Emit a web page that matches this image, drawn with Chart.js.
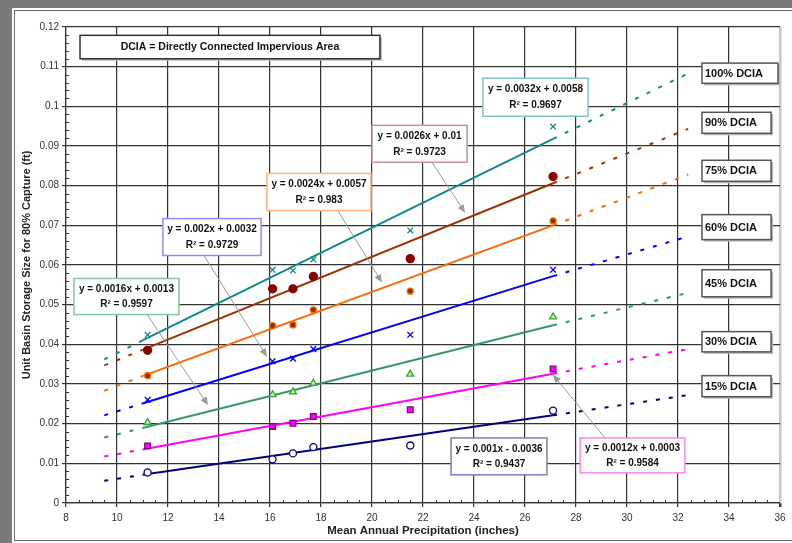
<!DOCTYPE html>
<html>
<head>
<meta charset="utf-8">
<script src="https://cdn.jsdelivr.net/npm/chart.js@4.4.1/dist/chart.umd.min.js"></script>
<style>
  html, body { margin: 0; padding: 0; background: #7a7a7a; }
  canvas { display: block; }
</style>
</head>
<body>
<canvas id="chart" width="792" height="543"></canvas>
<script>
'use strict';

const FONT = '"Liberation Sans", Arial, sans-serif';

// Mean annual precipitation (inches) of the six stations
const precip = [11.2, 16.1, 16.9, 17.7, 21.5, 27.1];

// Unit basin storage size (ft) for 80% capture, per DCIA level
const dcia100 = [0.0424, 0.0588, 0.0586, 0.0614, 0.0687, 0.0949];
const dcia90  = [0.0385, 0.0540, 0.0540, 0.0571, 0.0616, 0.0823];
const dcia75  = [0.0321, 0.0447, 0.0449, 0.0487, 0.0534, 0.0711];
const dcia60  = [0.0260, 0.0357, 0.0364, 0.0388, 0.0424, 0.0588];
const dcia45  = [0.0203, 0.0273, 0.0280, 0.0302, 0.0325, 0.0469];
const dcia30  = [0.0144, 0.0193, 0.0201, 0.0218, 0.0235, 0.0338];
const dcia15  = [0.0077, 0.0110, 0.0125, 0.0141, 0.0145, 0.0233];

// Trend lines: dashed 9.5-11, solid 11-27.1, dashed 27.1-32.4
const trendX   = [9.5, 11.0, 27.1, 32.4];
const trend100 = [0.0362, 0.0410, 0.0918, 0.1083];
const trend90  = [0.0347, 0.0386, 0.0806, 0.0943];
const trend75  = [0.0283, 0.0320, 0.0700, 0.0828];
const trend60  = [0.0221, 0.0251, 0.0572, 0.0672];
const trend45  = [0.0165, 0.0189, 0.0448, 0.0530];
const trend30  = [0.0117, 0.0135, 0.0326, 0.0388];
const trend15  = [0.0056, 0.0071, 0.0221, 0.0272];

const seriesNames = ['100% DCIA', '90% DCIA', '75% DCIA', '60% DCIA', '45% DCIA', '30% DCIA', '15% DCIA'];
const equations = [
  ['y = 0.0032x + 0.0058', 'R² = 0.9697'],
  ['y = 0.0026x + 0.01',   'R² = 0.9723'],
  ['y = 0.0024x + 0.0057', 'R² = 0.983'],
  ['y = 0.002x + 0.0032',  'R² = 0.9729'],
  ['y = 0.0016x + 0.0013', 'R² = 0.9597'],
  ['y = 0.0012x + 0.0003', 'R² = 0.9584'],
  ['y = 0.001x - 0.0036',  'R² = 0.9437'],
];

const xTicks = { min: 8, max: 36, step: 2 };
const yTicks = { min: 0, max: 0.12, step: 0.01 };

// look of each series
const STYLES = [
  { line: '#0e8a86', style: 'crossRot', fill: '#0e8a86', edge: '#0e8a86', r: 4 },
  { line: '#993300', style: 'circle',   fill: '#8b0000', edge: '#8b0000', r: 4 },
  { line: '#ff6600', style: 'circle',   fill: '#8a3000', edge: '#ff6600', r: 3 },
  { line: '#0000ff', style: 'crossRot', fill: '#0000ff', edge: '#0000ff', r: 4 },
  { line: '#339966', style: 'triangle', fill: '#ccff33', edge: '#339966', r: 4 },
  { line: '#ff00ff', style: 'rect',     fill: '#ff00ff', edge: '#800080', r: 4 },
  { line: '#000080', style: 'circle',   fill: '#ffffff', edge: '#000080', r: 3.5 },
];

const pointSets = [dcia100, dcia90, dcia75, dcia60, dcia45, dcia30, dcia15];
const trendSets = [trend100, trend90, trend75, trend60, trend45, trend30, trend15];

// annotation placement, in data units (x inches, y ft)
const EQ_BOXES = [
  { eq: 0, x0: 24.35, y0: 0.1071, x1: 28.47, y1: 0.0975, border: '#80c4c2' },
  { eq: 1, x0: 20.00, y0: 0.0952, x1: 23.73, y1: 0.0859, border: '#c89292', arrow: [22.35, 0.0859, 23.65, 0.0732] },
  { eq: 2, x0: 15.88, y0: 0.0831, x1: 19.96, y1: 0.0737, border: '#ffb27a', arrow: [18.63, 0.0740, 20.39, 0.0556] },
  { eq: 3, x0: 11.80, y0: 0.0717, x1: 15.65, y1: 0.0624, border: '#8c8cff', arrow: [13.41, 0.0624, 15.88, 0.0369] },
  { eq: 4, x0:  8.31, y0: 0.0566, x1: 12.43, y1: 0.0475, border: '#84c4a4', arrow: [11.18, 0.0475, 13.57, 0.0247] },
  { eq: 5, x0: 28.16, y0: 0.0164, x1: 32.27, y1: 0.0076, border: '#ff80ff', arrow: [29.14, 0.0164, 27.10, 0.0323] },
  { eq: 6, x0: 23.10, y0: 0.0164, x1: 26.86, y1: 0.0071, border: '#7c7cb8' },
];
const SIDE_LABELS = [
  { x0: 32.94, x1: 35.92, y0: 0.1109, y1: 0.1058 },
  { x0: 32.94, x1: 35.65, y0: 0.0985, y1: 0.0932 },
  { x0: 32.94, x1: 35.65, y0: 0.0864, y1: 0.0811 },
  { x0: 32.94, x1: 35.65, y0: 0.0727, y1: 0.0664 },
  { x0: 32.94, x1: 35.65, y0: 0.0588, y1: 0.0520 },
  { x0: 32.94, x1: 35.65, y0: 0.0432, y1: 0.0381 },
  { x0: 32.94, x1: 35.65, y0: 0.0321, y1: 0.0268 },
];
const NOTE = { text: 'DCIA = Directly Connected Impervious Area', x0: 8.55, y0: 0.1179, x1: 20.31, y1: 0.1120 };

function zip(xs, ys) {
  return xs.map((x, i) => ({ x, y: ys[i] }));
}

const datasets = [];
pointSets.forEach((vals, i) => {
  const s = STYLES[i];
  datasets.push({
    label: seriesNames[i],
    data: zip(precip, vals),
    showLine: false,
    pointStyle: s.style,
    pointRadius: s.r,
    pointBackgroundColor: s.fill,
    pointBorderColor: s.edge,
    pointBorderWidth: 1.3,
  });
});
trendSets.forEach((vals, i) => {
  datasets.push({
    label: seriesNames[i] + ' trend',
    data: zip(trendX, vals),
    showLine: true,
    pointRadius: 0,
    borderColor: STYLES[i].line,
    borderWidth: 2,
    segment: {
      borderDash: ctx => ctx.p0DataIndex === 1 ? [] : [4, 9],
    },
  });
});

function drawBox(c, x0, y0, x1, y1, stroke, shadow) {
  if (shadow) {
    c.fillStyle = '#b8b8b8';
    c.fillRect(x0 + 2, y0 + 2, x1 - x0, y1 - y0);
  }
  c.fillStyle = '#fff';
  c.fillRect(x0, y0, x1 - x0, y1 - y0);
  c.strokeStyle = stroke;
  c.lineWidth = 1.5;
  c.strokeRect(x0, y0, x1 - x0, y1 - y0);
}

function drawArrow(c, xa, ya, xb, yb) {
  const ang = Math.atan2(yb - ya, xb - xa);
  c.strokeStyle = '#9a9a9a';
  c.fillStyle = '#9a9a9a';
  c.lineWidth = 1;
  c.beginPath();
  c.moveTo(xa, ya);
  c.lineTo(xb - 6 * Math.cos(ang), yb - 6 * Math.sin(ang));
  c.stroke();
  c.beginPath();
  c.moveTo(xb, yb);
  c.lineTo(xb - 8 * Math.cos(ang) + 3.5 * Math.sin(ang), yb - 8 * Math.sin(ang) - 3.5 * Math.cos(ang));
  c.lineTo(xb - 8 * Math.cos(ang) - 3.5 * Math.sin(ang), yb - 8 * Math.sin(ang) + 3.5 * Math.cos(ang));
  c.closePath();
  c.fill();
}

const decorate = {
  id: 'decorate',
  beforeDraw(chart) {
    const c = chart.ctx;
    c.save();
    c.fillStyle = '#7a7a7a';
    c.fillRect(0, 0, chart.width, chart.height);
    c.fillStyle = '#fff';
    c.fillRect(12, 8, chart.width, chart.height);
    c.strokeStyle = '#6a6a6a';
    c.lineWidth = 1;
    c.strokeRect(14.5, 10.5, chart.width + 20, 530);
    c.restore();
  },
  beforeDatasetsDraw(chart) {
    // minor tick marks inside the axes
    const c = chart.ctx;
    const xs = chart.scales.x, ys = chart.scales.y;
    const a = chart.chartArea;
    c.save();
    c.strokeStyle = '#333';
    c.lineWidth = 1;
    c.beginPath();
    for (let i = xTicks.min * 2 + 1; i < xTicks.max * 2; i++) {
      if (i % 4 === 0) continue;
      const px = Math.round(xs.getPixelForValue(i / 2)) + 0.5;
      c.moveTo(px, a.bottom);
      c.lineTo(px, a.bottom - 3);
    }
    for (let i = 1; i < 60; i++) {
      if (i % 5 === 0) continue;
      const py = Math.round(ys.getPixelForValue(i * 0.002)) + 0.5;
      c.moveTo(a.left, py);
      c.lineTo(a.left + 3, py);
    }
    c.stroke();
    c.restore();
  },
  afterDraw(chart) {
    const c = chart.ctx;
    const X = v => chart.scales.x.getPixelForValue(v);
    const Y = v => chart.scales.y.getPixelForValue(v);
    c.save();
    c.textBaseline = 'middle';

    // note box
    c.font = 'bold 10.5px ' + FONT;
    drawBox(c, X(NOTE.x0), Y(NOTE.y0), X(NOTE.x1), Y(NOTE.y1), '#333', true);
    c.fillStyle = '#111';
    c.textAlign = 'center';
    c.fillText(NOTE.text, (X(NOTE.x0) + X(NOTE.x1)) / 2, (Y(NOTE.y0) + Y(NOTE.y1)) / 2 + 0.5);

    // arrows first, then equation boxes
    EQ_BOXES.forEach(b => {
      if (b.arrow) drawArrow(c, X(b.arrow[0]), Y(b.arrow[1]), X(b.arrow[2]), Y(b.arrow[3]));
    });
    c.font = 'bold 10px ' + FONT;
    EQ_BOXES.forEach(b => {
      const x0 = X(b.x0), x1 = X(b.x1), y0 = Y(b.y0), y1 = Y(b.y1);
      drawBox(c, x0, y0, x1, y1, b.border, false);
      const cx = (x0 + x1) / 2, cy = (y0 + y1) / 2;
      c.fillStyle = '#111';
      c.textAlign = 'center';
      c.fillText(equations[b.eq][0], cx, cy - 7.5);
      c.fillText(equations[b.eq][1], cx, cy + 8);
    });

    // series labels on the right
    c.font = 'bold 11px ' + FONT;
    SIDE_LABELS.forEach((b, i) => {
      const x0 = X(b.x0), x1 = X(b.x1), y0 = Y(b.y0), y1 = Y(b.y1);
      drawBox(c, x0, y0, x1, y1, '#555', true);
      c.fillStyle = '#111';
      c.textAlign = 'left';
      c.fillText(seriesNames[i], x0 + 3, (y0 + y1) / 2 + 0.5);
    });
    c.restore();
  },
};

new Chart(document.getElementById('chart'), {
  type: 'scatter',
  data: { datasets },
  plugins: [decorate],
  options: {
    responsive: false,
    animation: false,
    devicePixelRatio: 1,
    layout: { padding: { top: 27, right: 12, left: 14, bottom: 0 } },
    plugins: {
      legend: { display: false },
      tooltip: { enabled: false },
    },
    scales: {
      x: {
        type: 'linear',
        min: xTicks.min,
        max: xTicks.max,
        afterFit: s => { s.height = 40; },
        ticks: { stepSize: xTicks.step, color: '#333', font: { family: FONT, size: 10 }, padding: 5 },
        grid: {
          color: ctx => ctx.tick && ctx.tick.value === xTicks.max ? '#c8c8c8' : '#333',
          lineWidth: ctx => ctx.tick && ctx.tick.value === xTicks.max ? 2.5 : 1.2,
          tickColor: '#333',
          tickLength: 4,
        },
        border: { color: '#333', width: 1.2 },
        title: {
          display: true,
          text: 'Mean Annual Precipitation (inches)',
          color: '#222',
          font: { family: FONT, size: 11.5, weight: 'bold' },
          padding: { top: 5, bottom: 5 },
        },
      },
      y: {
        type: 'linear',
        min: yTicks.min,
        max: yTicks.max,
        afterFit: s => { s.width = 52; },
        ticks: {
          stepSize: yTicks.step,
          color: '#333',
          font: { family: FONT, size: 10 },
          padding: 3,
          callback: v => String(+v.toFixed(2)),
        },
        grid: { color: '#333', lineWidth: 1.2, tickLength: 4 },
        border: { color: '#333', width: 1.2 },
        title: {
          display: true,
          text: 'Unit Basin Storage Size for 80% Capture (ft)',
          color: '#222',
          font: { family: FONT, size: 11, weight: 'bold' },
          padding: { top: 6, bottom: 0 },
        },
      },
    },
  },
});
</script>
</body>
</html>
